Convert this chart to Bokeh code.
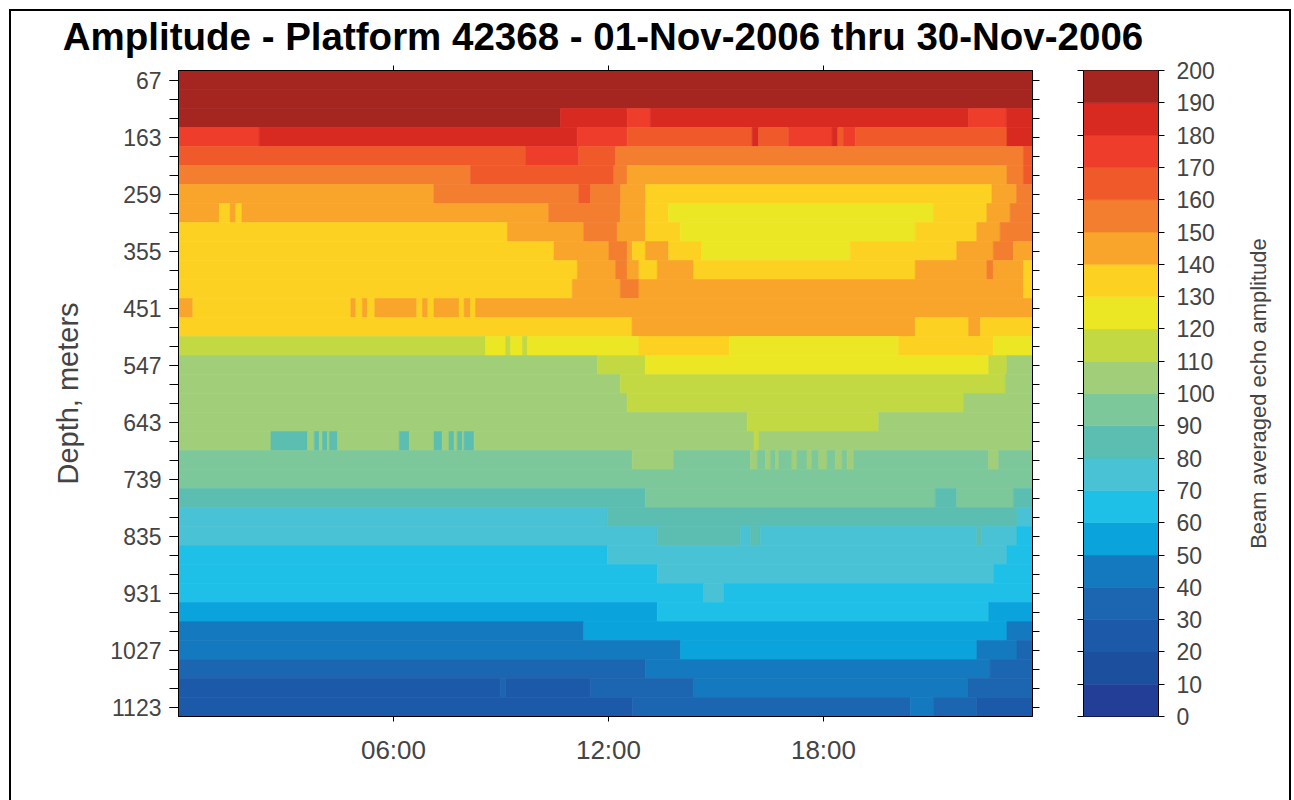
from bokeh.plotting import figure
from bokeh.models import Range1d, FixedTicker, LinearAxis, ColumnDataSource, Label
from bokeh.layouts import row, column
from bokeh.transform import linear_cmap
from bokeh.embed import file_html
from bokeh.resources import INLINE

TITLE = "Amplitude - Platform 42368 - 01-Nov-2006 thru 30-Nov-2006"
CB_LABEL = "Beam averaged echo amplitude"
Y_LABEL = "Depth, meters"
FONT = "Liberation Sans"

# colour classes of the amplitude scale, 0..200 in steps of 10
AMP_EDGES = [0, 10, 20, 30, 40, 50, 60, 70, 80, 90, 100,
             110, 120, 130, 140, 150, 160, 170, 180, 190, 200]
PALETTE = ["#233E96", "#1D4F9F", "#1C5AA9", "#1C65B0", "#1479BF",
           "#0AA3DC", "#1EC0E8", "#48C2D4", "#5BBEB1", "#7DC89A",
           "#A1CF79", "#C3D944", "#EBE724", "#FDD122", "#F9A42A",
           "#F47E30", "#F05A2B", "#EE3D2B", "#D92A22", "#A52521"]

# depth bins (m) and half-height of a bin
DEPTH_BIN_HALF = 16
DEPTH_TICKS = [67, 163, 259, 355, 451, 547, 643, 739, 835, 931, 1027, 1123]
DEPTH_BINS = [67, 99, 131, 163, 195, 227, 259, 291, 323, 355, 387, 419,
              451, 483, 515, 547, 579, 611, 643, 675, 707, 739, 771, 803,
              835, 867, 899, 931, 963, 995, 1027, 1059, 1091, 1123]

# time of day axis (hours); last 10-minute slot starts at 23:50
T_END = 23 + 50 / 60
TIME_TICKS = [6, 12, 18]
TIME_LABELS = ["06:00", "12:00", "18:00"]

# each depth row: (start hour, mean amplitude) runs, a run lasts to the next start
d0067 = [(0, 195)]
d0099 = [(0, 195)]
d0131 = [(0, 195), (10.66, 185), (12.52, 175), (13.17, 185), (22.05, 175), (23.10, 185)]
d0163 = [(0, 175), (2.25, 185), (11.13, 175), (12.52, 165), (16.01, 185), (16.19, 165),
         (17.03, 175), (18.24, 185), (18.40, 165), (18.56, 175), (18.89, 165), (23.12, 185)]
d0195 = [(0, 165), (9.69, 175), (11.17, 165), (12.20, 155), (23.58, 165)]
d0227 = [(0, 155), (8.15, 165), (12.15, 155), (12.52, 145), (23.12, 155), (23.58, 165)]
d0259 = [(0, 145), (7.13, 155), (11.17, 165), (11.50, 155), (12.34, 145), (13.04, 135),
         (22.70, 145), (23.39, 155)]
d0291 = [(0, 145), (1.14, 135), (1.44, 145), (1.60, 135), (1.77, 145), (10.33, 155),
         (12.33, 145), (13.03, 135), (13.68, 125), (21.07, 135), (22.56, 145), (23.21, 155)]
d0323 = [(0, 135), (9.18, 145), (11.31, 155), (12.24, 145), (13.03, 135), (14.00, 125),
         (20.56, 135), (22.28, 145), (22.93, 155)]
d0355 = [(0, 135), (10.48, 145), (12.01, 155), (12.52, 145), (12.66, 135), (13.03, 145),
         (13.68, 135), (14.60, 125), (18.75, 135), (21.72, 145), (22.74, 155), (23.30, 145)]
d0387 = [(0, 135), (11.13, 145), (12.20, 155), (12.52, 145), (12.85, 135), (13.36, 145),
         (14.38, 135), (20.56, 145), (22.56, 155), (22.74, 145), (23.58, 135)]
d0419 = [(0, 135), (10.99, 145), (12.33, 155), (12.85, 145), (23.58, 135)]
d0451 = [(0, 145), (0.40, 135), (4.81, 145), (4.95, 135), (5.13, 145), (5.27, 135),
         (5.48, 145), (6.65, 135), (6.81, 145), (6.96, 135), (7.13, 145), (7.83, 135),
         (7.97, 145), (8.15, 135), (8.29, 145)]
d0483 = [(0, 135), (12.66, 145), (20.56, 135), (22.05, 145), (22.38, 135)]
d0515 = [(0, 115), (8.57, 125), (9.13, 115), (9.27, 125), (9.60, 115), (9.74, 125),
         (12.85, 135), (15.37, 125), (20.10, 135), (22.74, 125)]
d0547 = [(0, 105), (11.69, 115), (13.03, 125), (22.61, 115), (23.12, 105)]
d0579 = [(0, 105), (12.33, 115), (23.07, 105)]
d0611 = [(0, 105), (12.52, 115), (21.91, 105)]
d0643 = [(0, 105), (15.87, 115), (19.54, 105)]
d0675 = [(0, 105), (2.58, 85), (3.60, 105), (3.79, 85), (3.93, 105), (4.02, 85),
         (4.16, 105), (4.21, 85), (4.44, 105), (6.16, 85), (6.44, 105), (7.13, 85),
         (7.36, 105), (7.55, 85), (7.69, 105), (7.78, 85), (7.92, 105), (7.97, 85),
         (8.25, 105), (16.06, 115), (16.20, 105)]
d0707 = [(0, 95), (12.66, 105), (13.82, 95), (15.96, 105), (16.15, 95), (16.38, 105),
         (16.52, 95), (16.66, 105), (16.75, 95), (17.12, 105), (17.26, 95), (17.54, 105),
         (17.68, 95), (17.87, 105), (18.10, 95), (18.33, 105), (18.52, 95), (18.66, 105),
         (18.84, 95), (22.61, 105), (22.89, 95)]
d0739 = [(0, 95)]
d0771 = [(0, 85), (13.03, 95), (21.12, 85), (21.72, 95), (23.30, 85)]
d0803 = [(0, 75), (11.97, 85), (23.40, 75)]
d0835 = [(0, 75), (13.36, 85), (15.69, 75), (15.96, 85), (16.24, 75), (22.28, 85),
         (22.42, 75), (23.40, 65)]
d0867 = [(0, 65), (11.97, 75), (23.12, 65)]
d0899 = [(0, 65), (13.36, 75), (22.75, 65)]
d0931 = [(0, 65), (14.66, 75), (15.22, 65)]
d0963 = [(0, 55), (13.36, 65), (22.61, 55)]
d0995 = [(0, 45), (11.31, 55), (23.12, 45)]
d1027 = [(0, 45), (14.01, 55), (22.28, 45), (23.40, 35)]
d1059 = [(0, 35), (13.03, 45), (22.65, 35)]
d1091 = [(0, 25), (8.99, 35), (9.13, 25), (11.50, 35), (14.38, 45), (22.03, 35)]
d1123 = [(0, 25), (12.66, 35), (20.42, 45), (21.07, 35), (22.28, 25)]

ROWS = [d0067, d0099, d0131, d0163, d0195, d0227, d0259, d0291, d0323, d0355, d0387,
        d0419, d0451, d0483, d0515, d0547, d0579, d0611, d0643, d0675, d0707, d0739,
        d0771, d0803, d0835, d0867, d0899, d0931, d0963, d0995, d1027, d1059, d1091, d1123]

# expand the runs into cells
cells = dict(left=[], right=[], top=[], bottom=[], amp=[])
for depth, runs in zip(DEPTH_BINS, ROWS):
    for i, (t0, amp) in enumerate(runs):
        t1 = runs[i + 1][0] if i + 1 < len(runs) else T_END
        cells["left"].append(t0)
        cells["right"].append(t1)
        cells["top"].append(depth - DEPTH_BIN_HALF)
        cells["bottom"].append(depth + DEPTH_BIN_HALF)
        cells["amp"].append(amp)

cmap = linear_cmap("amp", PALETTE, AMP_EDGES[0], AMP_EDGES[-1])


def ticks_only(ticks, length):
    """An axis that draws tick marks but no labels."""
    return LinearAxis(ticker=FixedTicker(ticks=ticks, minor_ticks=[]),
                      major_label_overrides={t: "" for t in ticks},
                      major_label_standoff=0, major_label_text_font_size="1px",
                      major_tick_out=length, major_tick_in=0,
                      minor_tick_out=0, minor_tick_in=0,
                      axis_line_color="black", major_tick_line_color="black")


HEAD_H = 48
PANEL_H = 789 - HEAD_H

# ---- title strip -------------------------------------------------------
head = figure(width=1278, height=HEAD_H, x_range=Range1d(0, 1278), y_range=Range1d(0, HEAD_H),
              output_backend="svg", toolbar_location=None, title=None,
              x_axis_location=None, y_axis_location=None, min_border=0,
              outline_line_color=None)
head.grid.visible = False
head.add_layout(Label(x=591.5, y=23.3, text=TITLE, text_align="center",
                      text_baseline="middle", text_font=FONT,
                      text_font_size="38.5px", text_font_style="bold",
                      text_color="black"))

# ---- section plot -------------------------------------------------------
p = figure(width=1039, height=PANEL_H,
           x_range=Range1d(0, T_END), y_range=Range1d(1139, 51),
           output_backend="svg", toolbar_location=None, title=None,
           min_border_left=167, min_border_right=18,
           min_border_top=11, min_border_bottom=84)
p.quad(left="left", right="right", top="top", bottom="bottom",
       source=ColumnDataSource(cells), fill_color=cmap, line_color=cmap, line_width=0.6)
p.grid.visible = False
p.outline_line_color = "black"
p.outline_line_width = 1
p.border_fill_color = "white"

yax = p.left[0]
yax.ticker = FixedTicker(ticks=DEPTH_TICKS, minor_ticks=DEPTH_BINS)
yax.axis_label = Y_LABEL
yax.axis_label_text_font = FONT
yax.axis_label_text_font_size = "29px"
yax.axis_label_text_font_style = "normal"
yax.axis_label_standoff = 23
yax.major_label_text_font = FONT
yax.major_label_text_font_size = "23px"
yax.major_label_standoff = 8
yax.major_tick_out = 9
yax.major_tick_in = 0
yax.minor_tick_out = 9
yax.minor_tick_in = 0
yax.axis_line_color = "black"
yax.major_tick_line_color = "black"
yax.minor_tick_line_color = "black"

xax = p.below[0]
xax.ticker = FixedTicker(ticks=TIME_TICKS, minor_ticks=[])
xax.major_label_overrides = dict(zip(TIME_TICKS, TIME_LABELS))
xax.major_label_text_font = FONT
xax.major_label_text_font_size = "26px"
xax.major_label_standoff = 13
xax.major_tick_out = 5
xax.major_tick_in = 0
xax.minor_tick_out = 0
xax.minor_tick_in = 0
xax.axis_line_color = "black"

p.add_layout(ticks_only(DEPTH_BINS, 7), "right")
p.add_layout(ticks_only(TIME_TICKS, 5), "above")

# ---- colour bar ------------------------------------------------------------
cb_src = ColumnDataSource(dict(
    bottom=AMP_EDGES[:-1], top=AMP_EDGES[1:],
    amp=[(a + b) / 2 for a, b in zip(AMP_EDGES[:-1], AMP_EDGES[1:])]))
cb = figure(width=185, height=PANEL_H, x_range=Range1d(0, 1), y_range=Range1d(0, 200),
            output_backend="svg", toolbar_location=None, title=None,
            min_border_left=33, min_border_right=77,
            min_border_top=11, min_border_bottom=84,
            x_axis_location=None, y_axis_location="right")
cb.quad(left=0, right=1, bottom="bottom", top="top", source=cb_src,
        fill_color=cmap, line_color=cmap, line_width=0.6)
cb.grid.visible = False
cb.outline_line_color = "black"
cb.border_fill_color = "white"

cax = cb.right[0]
cax.ticker = FixedTicker(ticks=AMP_EDGES, minor_ticks=[])
cax.major_label_text_font = FONT
cax.major_label_text_font_size = "23px"
cax.major_label_standoff = 12
cax.major_tick_out = 6
cax.major_tick_in = 0
cax.axis_line_color = "black"
cb.add_layout(ticks_only(AMP_EDGES, 6), "left")

# ---- rotated colour-bar caption (left axis label reads bottom to top) ---
lab = figure(width=54, height=PANEL_H, x_range=Range1d(0, 1), y_range=Range1d(0, 1),
             output_backend="svg", toolbar_location=None, title=None,
             min_border_left=44, min_border_right=0,
             min_border_top=11, min_border_bottom=84,
             x_axis_location=None, y_axis_location="left", outline_line_color=None)
lab.grid.visible = False
lax = lab.left[0]
lax.ticker = FixedTicker(ticks=[], minor_ticks=[])
lax.axis_line_color = None
lax.major_tick_out = 0
lax.minor_tick_out = 0
lax.axis_label = CB_LABEL
lax.axis_label_text_font = FONT
lax.axis_label_text_font_size = "22px"
lax.axis_label_text_font_style = "normal"
lax.axis_label_standoff = 9

layout = column(head, row(p, cb, lab), margin=(9, 0, 0, 9),
                styles={"border-left": "2px solid black", "border-top": "2px solid black",
                        "border-right": "2px solid black"})

open("out.html", "w").write(file_html(layout, INLINE, title="Amplitude"))
